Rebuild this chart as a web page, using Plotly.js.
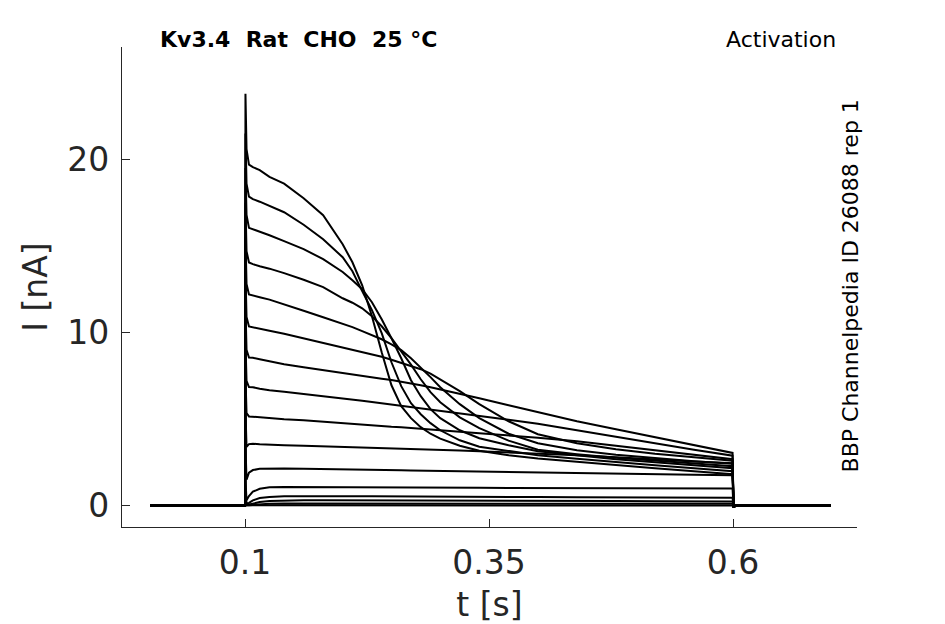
<!DOCTYPE html>
<html>
<head>
<meta charset="utf-8">
<script src="https://cdn.plot.ly/plotly-3.0.1.min.js"></script>
<style>
  body { margin: 0; background: #fff; }
  #chart { width: 945px; height: 624px; }
</style>
</head>
<body>
<div id="chart"></div>
<script>
// sample times [s], shared by all sweeps
var tSec = [0.003, 0.0998, 0.1, 0.1004, 0.1015, 0.104, 0.108, 0.115, 0.125, 0.14, 0.16, 0.18,
            0.2, 0.21, 0.22, 0.23, 0.24, 0.25, 0.26, 0.27, 0.28, 0.29, 0.3, 0.32, 0.34, 0.37,
            0.4, 0.44, 0.48, 0.52, 0.56, 0.5995, 0.6005, 0.603, 0.7]

// current [nA] per voltage step, largest first
var sweep01 = [0, 0, 0, 23.8, 20.6, 19.7, 19.56, 19.38, 19.0, 18.6, 17.76, 16.78,
               15.1, 14.06, 12.73, 10.94, 8.86, 6.95, 5.74, 5.05, 4.53, 4.15, 3.87, 3.46, 3.17, 2.91,
               2.72, 2.53, 2.33, 2.16, 1.98, 1.81, -0.1, 0, 0]
var sweep02 = [0, 0, 0, 21.5, 18.6, 17.85, 17.71, 17.56, 17.33, 16.95, 16.23, 15.39,
               14.35, 13.54, 12.39, 11.29, 9.96, 8.28, 6.9, 5.91, 5.28, 4.76, 4.35, 3.77, 3.4, 3.14,
               2.91, 2.71, 2.5, 2.33, 2.16, 1.98, -0.1, 0, 0]
var sweep03 = [0, 0, 0, 19.5, 16.8, 16.05, 15.97, 15.83, 15.62, 15.28, 14.82, 14.24,
               13.5, 13.02, 12.5, 11.75, 10.77, 9.67, 8.51, 7.24, 6.32, 5.57, 5.05, 4.35, 3.89, 3.49,
               3.14, 2.91, 2.68, 2.5, 2.33, 2.16, -0.1, 0, 0]
var sweep04 = [0, 0, 0, 17.5, 14.7, 14.05, 13.95, 13.83, 13.69, 13.43, 13.05, 12.62,
               11.98, 11.72, 11.4, 10.94, 10.36, 9.67, 8.92, 8.14, 7.3, 6.55, 5.97, 5.1, 4.47, 3.75,
               3.23, 2.97, 2.76, 2.59, 2.45, 2.27, -0.1, 0, 0]
var sweep05 = [0, 0, 0, 15.5, 12.8, 12.2, 12.13, 12.04, 11.9, 11.64, 11.26, 10.88,
               10.51, 10.31, 10.08, 9.84, 9.61, 9.32, 8.98, 8.51, 7.99, 7.42, 6.84, 5.86, 5.05, 4.15,
               3.6, 3.2, 2.94, 2.73, 2.56, 2.42, -0.1, 0, 0]
var sweep06 = [0, 0, 0, 13.5, 10.9, 10.35, 10.31, 10.22, 10.1, 9.93, 9.67, 9.41,
               9.12, 9.01, 8.89, 8.75, 8.6, 8.43, 8.25, 8.08, 7.88, 7.62, 7.3, 6.61, 5.86, 4.87,
               4.12, 3.6, 3.25, 2.99, 2.79, 2.59, -0.1, 0, 0]
var sweep07 = [0, 0, 0, 11.5, 9.0, 8.55, 8.54, 8.46, 8.34, 8.17, 7.99, 7.82,
               7.63, 7.55, 7.47, 7.4, 7.33, 7.25, 7.16, 7.06, 6.95, 6.84, 6.72, 6.46, 6.2, 5.8,
               5.39, 4.87, 4.41, 3.95, 3.49, 3.04, -0.1, 0, 0]
var sweep08 = [0, 0, 0, 9.5, 7.2, 6.85, 6.84, 6.75, 6.66, 6.58, 6.46, 6.32,
               6.18, 6.12, 6.06, 5.98, 5.91, 5.84, 5.77, 5.7, 5.62, 5.55, 5.48, 5.34, 5.19, 4.96,
               4.73, 4.35, 3.95, 3.6, 3.22, 2.88, -0.1, 0, 0]
var sweep09 = [0, 0, 0, 7.5, 5.35, 5.15, 5.13, 5.09, 5.05, 4.99, 4.93, 4.84,
               4.74, 4.7, 4.67, 4.62, 4.58, 4.55, 4.53, 4.48, 4.44, 4.4, 4.35, 4.27, 4.18, 4.06,
               3.92, 3.72, 3.45, 3.2, 2.95, 2.68, -0.1, 0, 0]
var sweep10 = [0, 0, 0, 5.5, 3.4, 3.55, 3.57, 3.54, 3.51, 3.49, 3.46, 3.43,
               3.39, 3.37, 3.35, 3.33, 3.31, 3.29, 3.28, 3.26, 3.25, 3.24, 3.23, 3.18, 3.14, 3.08,
               3.02, 2.91, 2.79, 2.66, 2.55, 2.45, -0.1, 0, 0]
var sweep11 = [0, 0, 0, 3.5, 1.5, 1.9, 2.05, 2.12, 2.14, 2.14, 2.13, 2.12,
               2.1, 2.09, 2.08, 2.07, 2.06, 2.05, 2.04, 2.03, 2.02, 2.01, 2.0, 1.98, 1.96, 1.93,
               1.9, 1.86, 1.83, 1.8, 1.78, 1.75, -0.1, 0, 0]
var sweep12 = [0, 0, 0, 1.5, 0.3, 0.55, 0.8, 0.97, 1.05, 1.07, 1.07, 1.07,
               1.06, 1.06, 1.06, 1.05, 1.05, 1.05, 1.05, 1.04, 1.04, 1.04, 1.04, 1.03, 1.03, 1.02,
               1.02, 1.01, 1.0, 1.0, 0.99, 0.98, -0.05, 0, 0]
var sweep13 = [0, 0, 0, 0.8, 0.08, 0.15, 0.3, 0.43, 0.5, 0.53, 0.54, 0.54,
               0.54, 0.53, 0.53, 0.53, 0.53, 0.52, 0.52, 0.52, 0.52, 0.51, 0.51, 0.5, 0.5, 0.49,
               0.49, 0.48, 0.47, 0.46, 0.46, 0.45, -0.05, 0, 0]
var sweep14 = [0, 0, 0, 0.5, 0.05, 0.06, 0.12, 0.2, 0.26, 0.29, 0.3, 0.3,
               0.3, 0.3, 0.3, 0.29, 0.29, 0.29, 0.29, 0.29, 0.28, 0.28, 0.28, 0.28, 0.27, 0.27,
               0.27, 0.26, 0.26, 0.25, 0.25, 0.24, -0.05, 0, 0]
var sweep15 = [0, 0, 0, 0.3, 0.02, 0.02, 0.04, 0.07, 0.1, 0.12, 0.12, 0.12,
               0.12, 0.12, 0.12, 0.12, 0.12, 0.12, 0.11, 0.11, 0.11, 0.11, 0.11, 0.11, 0.11, 0.11,
               0.11, 0.1, 0.1, 0.1, 0.1, 0.1, -0.03, 0, 0]
var sweep16 = [0, 0, 0, 0.15, 0.01, 0.01, 0.01, 0.02, 0.02, 0.02, 0.02, 0.02,
               0.02, 0.02, 0.02, 0.02, 0.02, 0.02, 0.02, 0.02, 0.02, 0.02, 0.02, 0.02, 0.02, 0.02,
               0.02, 0.02, 0.02, 0.02, 0.02, 0.02, -0.02, 0, 0]

var xTicks = [0.1, 0.35, 0.6]
var xTickText = ['0.1', '0.35', '0.6']
var yTicks = [0, 10, 20]

var sweeps = [sweep16, sweep15, sweep14, sweep13, sweep12, sweep11, sweep10, sweep09,
              sweep08, sweep07, sweep06, sweep05, sweep04, sweep03, sweep02, sweep01]

var data = sweeps.map(function (ys) {
    return { x: tSec, y: ys, type: 'scatter', mode: 'lines',
             line: { color: '#000000', width: 2 }, hoverinfo: 'skip', showlegend: false }
})

var axisGrey = '#262626'
var font = 'DejaVu Sans, Liberation Sans, sans-serif'

var layout = {
    width: 945,
    height: 624,
    margin: { l: 122, r: 88, t: 47, b: 97 },
    paper_bgcolor: '#ffffff',
    plot_bgcolor: '#ffffff',
    font: { family: font, color: axisGrey },
    showlegend: false,
    xaxis: {
        range: [-0.0261, 0.727],
        tickvals: xTicks,
        ticktext: xTickText,
        showgrid: false, zeroline: false,
        showline: true, linecolor: axisGrey, linewidth: 1.2,
        ticks: 'inside', ticklen: 8, tickwidth: 1, tickcolor: axisGrey,
        ticklabelstandoff: 6,
        tickfont: { size: 33, family: font, color: axisGrey },
        title: { text: 't [s]', font: { size: 33, family: font, color: axisGrey }, standoff: 15 }
    },
    yaxis: {
        range: [-1.24, 26.5],
        tickvals: yTicks,
        showgrid: false, zeroline: false,
        showline: true, linecolor: axisGrey, linewidth: 1.2,
        ticks: 'inside', ticklen: 8, tickwidth: 1, tickcolor: axisGrey,
        ticklabelstandoff: 5,
        tickfont: { size: 33, family: font, color: axisGrey },
        title: { text: 'I [nA]', font: { size: 33, family: font, color: axisGrey }, standoff: 9 }
    },
    annotations: [
        { text: '<b>Kv3.4  Rat  CHO  25 °C</b>', xref: 'paper', yref: 'paper',
          x: 0.049, y: 1.0146, xanchor: 'left', yanchor: 'middle', showarrow: false,
          font: { size: 22, family: font, color: '#000000' } },
        { text: 'Activation', xref: 'paper', yref: 'paper',
          x: 0.9746, y: 1.0146, xanchor: 'right', yanchor: 'middle', showarrow: false,
          font: { size: 22, family: font, color: '#000000' } },
        { text: 'BBP Channelpedia ID 26088 rep 1', xref: 'paper', yref: 'paper',
          x: 0.991, y: 0.502, xanchor: 'center', yanchor: 'middle', textangle: -90, showarrow: false,
          font: { size: 22, family: font, color: '#000000' } }
    ]
}

Plotly.newPlot('chart', data, layout, { staticPlot: true, displayModeBar: false })
</script>
</body>
</html>
